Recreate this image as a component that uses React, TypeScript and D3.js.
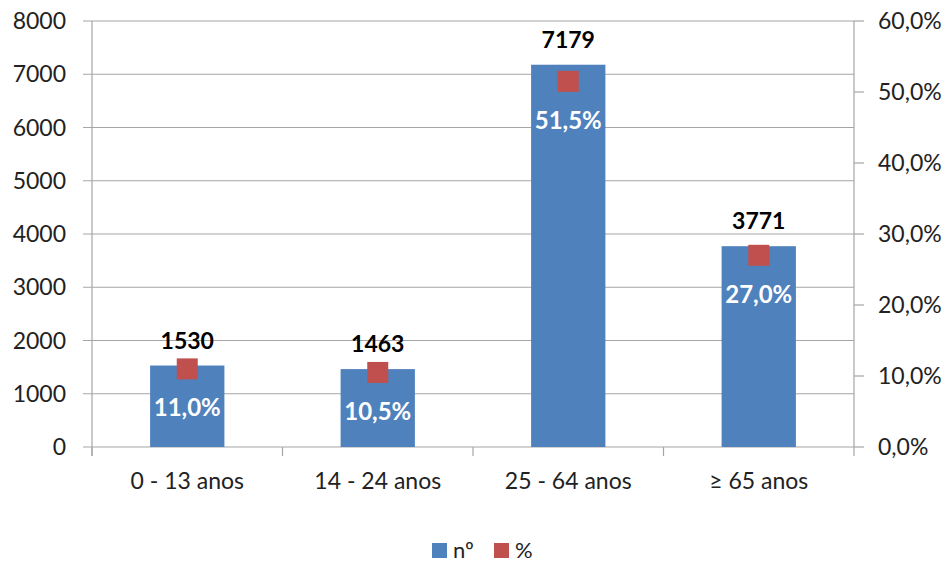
import React from "react";
import * as d3 from "d3";

const categories = ["0 - 13 anos", "14 - 24 anos", "25 - 64 anos", "≥ 65 anos"];
const counts = [1530, 1463, 7179, 3771];
const percents = [11.0, 10.5, 51.5, 27.0];
const leftTicks = [0, 1000, 2000, 3000, 4000, 5000, 6000, 7000, 8000];
const rightTicks = [0, 10, 20, 30, 40, 50, 60];

const W = 949;
const H = 562;
const FONT = "Lato, 'Open Sans', sans-serif";
const BLUE = "#4F81BD";
const RED = "#C0504D";
const GRID = "#A6A6A6";

export default function App() {
  const left = 92;
  const right = 854;
  const top = 21;
  const bottom = 447;

  const x = d3.scaleBand<string>().domain(categories).range([left, right]).paddingInner(0.61).paddingOuter(0.305);
  const band = d3.scaleBand<string>().domain(categories).range([left, right]);
  const y = d3.scaleLinear().domain([0, 8000]).range([bottom, top]);
  const y2 = d3.scaleLinear().domain([0, 60]).range([bottom, top]);
  const fmtPct = (v: number) => v.toFixed(1).replace(".", ",") + "%";

  return (
    <svg width={W} height={H} style={{ position: "absolute", left: 0, top: 0, background: "#fff" }} fontFamily={FONT}>
      {/* horizontal gridlines with outward ticks on the left axis */}
      {leftTicks.map((t) => (
        <g key={"g" + t}>
          <line x1={left - 9} x2={right} y1={y(t)} y2={y(t)} stroke={GRID} strokeWidth={1.2} />
          <text x={66} y={y(t)} dy="0.35em" textAnchor="end" fontSize={23} fill="#222">
            {t}
          </text>
        </g>
      ))}
      {/* right axis ticks and labels */}
      {rightTicks.map((t) => (
        <g key={"r" + t}>
          <line x1={right} x2={right + 10} y1={y2(t)} y2={y2(t)} stroke={GRID} strokeWidth={1.2} />
          <text x={878} y={y2(t)} dy="0.35em" textAnchor="start" fontSize={23} fill="#222">
            {fmtPct(t)}
          </text>
        </g>
      ))}
      {/* axis lines */}
      <line x1={left} x2={left} y1={top} y2={bottom + 9} stroke={GRID} strokeWidth={1.2} />
      <line x1={right} x2={right} y1={top} y2={bottom + 9} stroke={GRID} strokeWidth={1.2} />
      {/* category boundary ticks */}
      {categories.map((c, i) => (
        <line key={"ct" + i} x1={band(c)!} x2={band(c)!} y1={bottom} y2={bottom + 9} stroke={GRID} strokeWidth={1.2} />
      ))}
      {/* bars */}
      {categories.map((c, i) => (
        <rect key={"b" + i} x={x(c)!} y={y(counts[i])} width={x.bandwidth()} height={bottom - y(counts[i])} fill={BLUE} />
      ))}
      {/* count labels above bars */}
      {categories.map((c, i) => (
        <text
          key={"cl" + i}
          x={x(c)! + x.bandwidth() / 2}
          y={y(counts[i]) - 17}
          textAnchor="middle"
          fontSize={23}
          fontWeight="bold"
          fill="#000"
        >
          {counts[i]}
        </text>
      ))}
      {/* percentage markers */}
      {categories.map((c, i) => {
        const cx = x(c)! + x.bandwidth() / 2;
        const cy = y2(percents[i]);
        return <rect key={"m" + i} x={cx - 10.5} y={cy - 10.5} width={21} height={21} fill={RED} />;
      })}
      {/* percentage labels */}
      {categories.map((c, i) => (
        <text
          key={"pl" + i}
          x={x(c)! + x.bandwidth() / 2}
          y={y2(percents[i]) + 39}
          dy="0.35em"
          textAnchor="middle"
          fontSize={24}
          fontWeight="bold"
          fill="#fff"
        >
          {fmtPct(percents[i])}
        </text>
      ))}
      {/* category labels */}
      {categories.map((c, i) => (
        <text key={"cat" + i} x={band(c)! + band.bandwidth() / 2} y={481} dy="0.35em" textAnchor="middle" fontSize={23} fill="#222">
          {c}
        </text>
      ))}
      {/* legend */}
      <g>
        <rect x={432} y={543} width={15} height={15} fill={BLUE} />
        <text x={453} y={558} fontSize={22} fill="#222">nº</text>
        <rect x={494} y={543} width={15} height={15} fill={RED} />
        <text x={515} y={558} fontSize={22} fill="#222">%</text>
      </g>
    </svg>
  );
}
